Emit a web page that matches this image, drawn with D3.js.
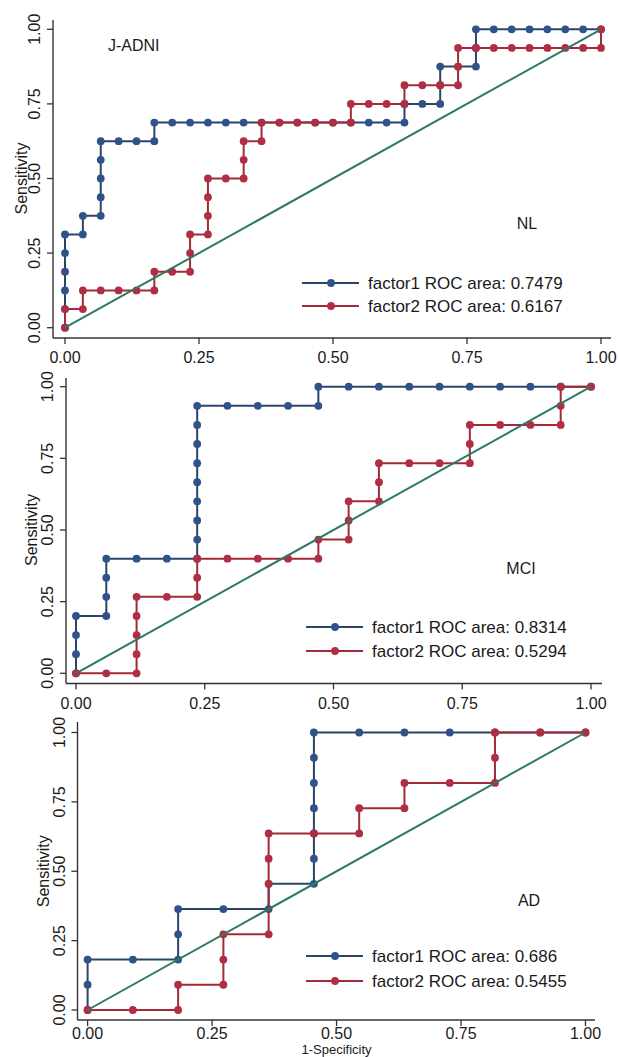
<!DOCTYPE html>
<html>
<head>
<meta charset="utf-8">
<script src="https://cdn.jsdelivr.net/npm/d3@7"></script>
<style>
  body { margin: 0; background: #fff; }
  svg { display: block; }
  text { font-family: "Liberation Sans", Arial, sans-serif; fill: #1a1a1a; }
</style>
</head>
<body>
<svg id="chart" width="619" height="1057"></svg>
<script>
// ROC points as [false-positive count, true-positive count] per cutpoint.
// NL group: 30 negatives, 16 positives
const nlNeg = 30, nlPos = 16;
const nlFactor1 = [[0,0],[0,1],[0,2],[0,3],[0,4],[0,5],[1,5],[1,6],[2,6],[2,7],[2,8],[2,9],[2,10],
  [3,10],[4,10],[5,10],[5,11],[6,11],[7,11],[8,11],[9,11],[10,11],[11,11],[12,11],[13,11],[14,11],
  [15,11],[16,11],[17,11],[18,11],[19,11],[19,12],[20,12],[21,12],[21,13],[21,14],[22,14],[23,14],
  [23,15],[23,16],[24,16],[25,16],[26,16],[27,16],[28,16],[29,16],[30,16]];
const nlFactor2 = [[0,0],[0,1],[1,1],[1,2],[2,2],[3,2],[4,2],[5,2],[5,3],[6,3],[7,3],[7,4],[7,5],
  [8,5],[8,6],[8,7],[8,8],[9,8],[10,8],[10,9],[10,10],[11,10],[11,11],[12,11],[13,11],[14,11],
  [15,11],[16,11],[16,12],[17,12],[18,12],[19,12],[19,13],[20,13],[21,13],[22,13],[22,14],[22,15],
  [23,15],[24,15],[25,15],[26,15],[27,15],[28,15],[29,15],[30,15],[30,16]];
const nlAreas = ["0.7479", "0.6167"];

// MCI group: 17 negatives, 15 positives
const mciNeg = 17, mciPos = 15;
const mciFactor1 = [[0,0],[0,1],[0,2],[0,3],[1,3],[1,4],[1,5],[1,6],[2,6],[3,6],[4,6],[4,7],[4,8],
  [4,9],[4,10],[4,11],[4,12],[4,13],[4,14],[5,14],[6,14],[7,14],[8,14],[8,15],[9,15],[10,15],
  [11,15],[12,15],[13,15],[14,15],[15,15],[16,15],[17,15]];
const mciFactor2 = [[0,0],[1,0],[2,0],[2,1],[2,2],[2,3],[2,4],[3,4],[4,4],[4,5],[4,6],[5,6],[6,6],
  [7,6],[8,6],[8,7],[9,7],[9,8],[9,9],[10,9],[10,10],[10,11],[11,11],[12,11],[13,11],[13,12],
  [13,13],[14,13],[15,13],[16,13],[16,14],[16,15],[17,15]];
const mciAreas = ["0.8314", "0.5294"];

// AD group: 11 negatives, 11 positives
const adNeg = 11, adPos = 11;
const adFactor1 = [[0,0],[0,1],[0,2],[1,2],[2,2],[2,3],[2,4],[3,4],[4,4],[4,5],[5,5],[5,6],[5,7],
  [5,8],[5,9],[5,10],[5,11],[6,11],[7,11],[8,11],[9,11],[10,11],[11,11]];
const adFactor2 = [[0,0],[1,0],[2,0],[2,1],[3,1],[3,2],[3,3],[4,3],[4,5],[4,6],[4,7],[5,7],[6,7],
  [6,8],[7,8],[7,9],[8,9],[9,9],[9,10],[9,11],[10,11],[11,11]];
const adAreas = ["0.686", "0.5455"];

const seriesNames = ["factor1", "factor2"];
const tickValues = [0, 0.25, 0.5, 0.75, 1];
const groupLabels = ["NL", "MCI", "AD"];
const studyLabel = "J-ADNI";

// Styling
const lineColors = ["#2c4468", "#a22a3b"];
const markerColors = ["#2f5288", "#b02e42"];
const refColor = "#2b7a62";
const axisColor = "#333";

// Panel layout (pixel frames of each plot region)
const panels = [
  { series: [nlFactor1, nlFactor2], nNeg: nlNeg, nPos: nlPos, areas: nlAreas, label: groupLabels[0],
    px0: 65, px1: 601, py0: 327.7, py1: 29.3, axX: 53, axY: 338, axTop: 20, axRight: 611,
    labelPos: [527, 229], legX: 302, legY: [283, 306], titleX: 27, tickGap: 25, study: true },
  { series: [mciFactor1, mciFactor2], nNeg: mciNeg, nPos: mciPos, areas: mciAreas, label: groupLabels[1],
    px0: 76, px1: 591, py0: 673.3, py1: 386.7, axX: 66, axY: 683.5, axTop: 378, axRight: 602,
    labelPos: [521, 574], legX: 306, legY: [627, 651], titleX: 37, tickGap: 25 },
  { series: [adFactor1, adFactor2], nNeg: adNeg, nPos: adPos, areas: adAreas, label: groupLabels[2],
    px0: 87.6, px1: 585.5, py0: 1010, py1: 732.5, axX: 77.5, axY: 1020, axTop: 722, axRight: 595,
    labelPos: [529, 906], legX: 306, legY: [956, 981], titleX: 49, tickGap: 19, xTitle: "1-Specificity" }
];

const svg = d3.select("#chart");
const fmt = d3.format(".2f");

panels.forEach(p => {
  const x = d3.scaleLinear().domain([0, 1]).range([p.px0, p.px1]);
  const y = d3.scaleLinear().domain([0, 1]).range([p.py0, p.py1]);
  const g = svg.append("g");

  // axis lines
  g.append("line").attr("x1", p.axX).attr("x2", p.axX).attr("y1", p.axTop).attr("y2", p.axY)
    .attr("stroke", axisColor).attr("stroke-width", 1.4);
  g.append("line").attr("x1", p.axX).attr("x2", p.axRight).attr("y1", p.axY).attr("y2", p.axY)
    .attr("stroke", axisColor).attr("stroke-width", 1.4);

  // x ticks
  tickValues.forEach(t => {
    g.append("line").attr("x1", x(t)).attr("x2", x(t)).attr("y1", p.axY).attr("y2", p.axY + 6)
      .attr("stroke", axisColor).attr("stroke-width", 1.3);
    g.append("text").attr("x", x(t)).attr("y", p.axY + p.tickGap).attr("text-anchor", "middle")
      .attr("font-size", 16).text(fmt(t));
  });
  // y ticks (rotated labels)
  tickValues.forEach(t => {
    g.append("line").attr("x1", p.axX - 6).attr("x2", p.axX).attr("y1", y(t)).attr("y2", y(t))
      .attr("stroke", axisColor).attr("stroke-width", 1.3);
    g.append("text").attr("transform", `translate(${p.axX - 13},${y(t)}) rotate(-90)`)
      .attr("text-anchor", "middle").attr("font-size", 16).text(fmt(t));
  });

  // axis titles
  g.append("text").attr("transform", `translate(${p.titleX},${(p.py0 + p.py1) / 2}) rotate(-90)`)
    .attr("text-anchor", "middle").attr("font-size", 16).text("Sensitivity");
  if (p.xTitle) {
    g.append("text").attr("x", (p.px0 + p.px1) / 2).attr("y", 1053.5).attr("text-anchor", "middle")
      .attr("font-size", 13).text(p.xTitle);
  }

  // ROC curves
  const line = d3.line().x(d => x(d[0] / p.nNeg)).y(d => y(d[1] / p.nPos));
  p.series.forEach((s, i) => {
    g.append("path").datum(s).attr("d", line).attr("fill", "none")
      .attr("stroke", lineColors[i]).attr("stroke-width", 2);
    g.selectAll(null).data(s).enter().append("circle")
      .attr("cx", d => x(d[0] / p.nNeg)).attr("cy", d => y(d[1] / p.nPos)).attr("r", 3.9)
      .attr("fill", markerColors[i]);
  });

  // reference diagonal
  g.append("line").attr("x1", x(0)).attr("y1", y(0)).attr("x2", x(1)).attr("y2", y(1))
    .attr("stroke", refColor).attr("stroke-width", 2);

  // group label
  g.append("text").attr("x", p.labelPos[0]).attr("y", p.labelPos[1]).attr("text-anchor", "middle")
    .attr("font-size", 16).text(p.label);
  if (p.study) {
    g.append("text").attr("x", 108).attr("y", 51).attr("font-size", 16).text(studyLabel);
  }

  // legend
  p.series.forEach((s, i) => {
    const ly = p.legY[i];
    g.append("line").attr("x1", p.legX).attr("x2", p.legX + 57).attr("y1", ly).attr("y2", ly)
      .attr("stroke", lineColors[i]).attr("stroke-width", 2);
    g.append("circle").attr("cx", p.legX + 29).attr("cy", ly).attr("r", 3.9).attr("fill", markerColors[i]);
    g.append("text").attr("x", p.legX + 66).attr("y", ly + 6).attr("font-size", 17)
      .text(`${seriesNames[i]} ROC area: ${p.areas[i]}`);
  });
});
</script>
</body>
</html>
